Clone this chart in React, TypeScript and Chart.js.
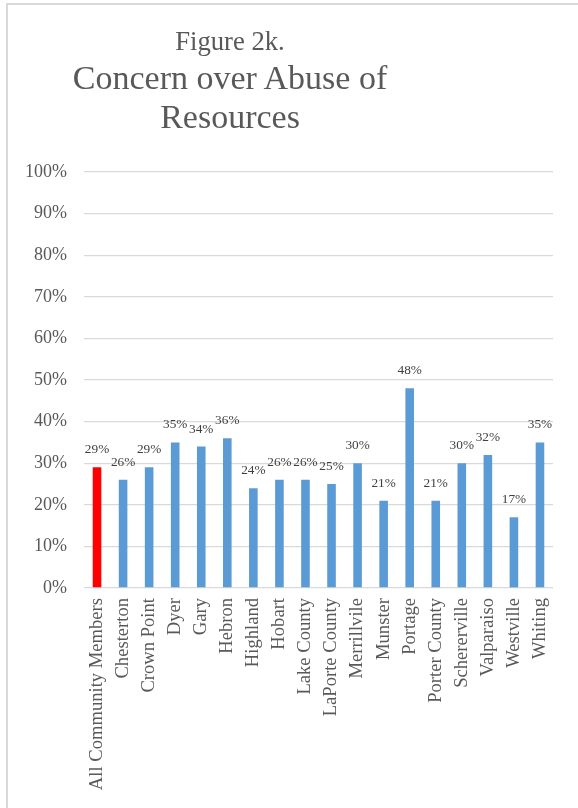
import React, { useEffect, useRef } from "react";
import { Chart, registerables } from "chart.js";

Chart.register(...registerables);

const categories = [
  "All Community Members", "Chesterton", "Crown Point", "Dyer", "Gary", "Hebron",
  "Highland", "Hobart", "Lake County", "LaPorte County", "Merrillvile", "Munster",
  "Portage", "Porter County", "Schererville", "Valparaiso", "Westville", "Whiting",
];
const values = [29, 26, 29, 35, 34, 36, 24, 26, 26, 25, 30, 21, 48, 21, 30, 32, 17, 35];
const barColors = categories.map((_, i) => (i === 0 ? "#FF0000" : "#5B9BD5"));
const titleLine1 = "Figure 2k.";
const titleLines = ["Concern over Abuse of", "Resources"];

const FONT = "'Liberation Serif', 'Times New Roman', serif";

const dataLabelPlugin = {
  id: "dataLabels",
  afterDatasetsDraw(chart: any) {
    const ctx = chart.ctx;
    const meta = chart.getDatasetMeta(0);
    ctx.save();
    ctx.font = `13.3px ${FONT}`;
    ctx.fillStyle = "#404040";
    ctx.textAlign = "center";
    ctx.textBaseline = "alphabetic";
    meta.data.forEach((bar: any, i: number) => {
      ctx.fillText(`${values[i]}%`, bar.x, bar.y - 14);
    });
    ctx.restore();
  },
};

export default function App() {
  const ref = useRef<HTMLCanvasElement>(null);
  useEffect(() => {
    const chart = new Chart(ref.current!, {
      type: "bar",
      data: {
        labels: categories,
        datasets: [
          {
            data: values,
            backgroundColor: barColors,
            barPercentage: 0.33,
            categoryPercentage: 1,
          },
        ],
      },
      options: {
        animation: false,
        responsive: false,
        maintainAspectRatio: false,
        layout: { padding: { left: 0, top: 172, right: 25, bottom: 0 } },
        plugins: { legend: { display: false }, title: { display: false }, tooltip: { enabled: false } },
        scales: {
          x: {
            grid: { display: false, drawTicks: false },
            border: { display: false },
            ticks: {
              minRotation: 90,
              maxRotation: 90,
              autoSkip: false,
              padding: 10,
              color: "#595959",
              font: { family: FONT, size: 18.6 },
            },
            afterFit(scale: any) {
              scale.height = 220;
            },
          },
          y: {
            min: 0,
            max: 100,
            grid: { color: "#D9D9D9", lineWidth: 1.3, drawTicks: false },
            border: { display: false },
            ticks: {
              stepSize: 10,
              padding: 17,
              color: "#595959",
              font: { family: FONT, size: 18 },
              callback: (v: any) => `${v}%`,
            },
            afterFit(scale: any) {
              scale.width = 84;
            },
          },
        },
      },
      plugins: [dataLabelPlugin],
    });
    return () => chart.destroy();
  }, []);

  const titleStyle = (fs: number, top: number): React.CSSProperties => ({
    position: "absolute",
    left: 0,
    width: 460,
    top,
    textAlign: "center",
    fontFamily: FONT,
    fontSize: fs,
    lineHeight: `${fs}px`,
    color: "#595959",
    whiteSpace: "nowrap",
  });

  return (
    <div style={{ position: "fixed", left: 0, top: 0, width: 578, height: 808, overflow: "hidden", background: "#fff" }}>
      <div
        style={{
          position: "absolute",
          left: 6,
          top: 3,
          width: 700,
          height: 900,
          border: "2px solid #D9D9D9",
          boxSizing: "border-box",
        }}
      />
      <canvas ref={ref} width={578} height={808} style={{ position: "absolute", left: 0, top: 0, width: 578, height: 808 }} />
      <div style={titleStyle(26.67, 27.7)}>{titleLine1}</div>
      <div style={titleStyle(34, 60.5)}>{titleLines[0]}</div>
      <div style={titleStyle(34, 99.5)}>{titleLines[1]}</div>
    </div>
  );
}
